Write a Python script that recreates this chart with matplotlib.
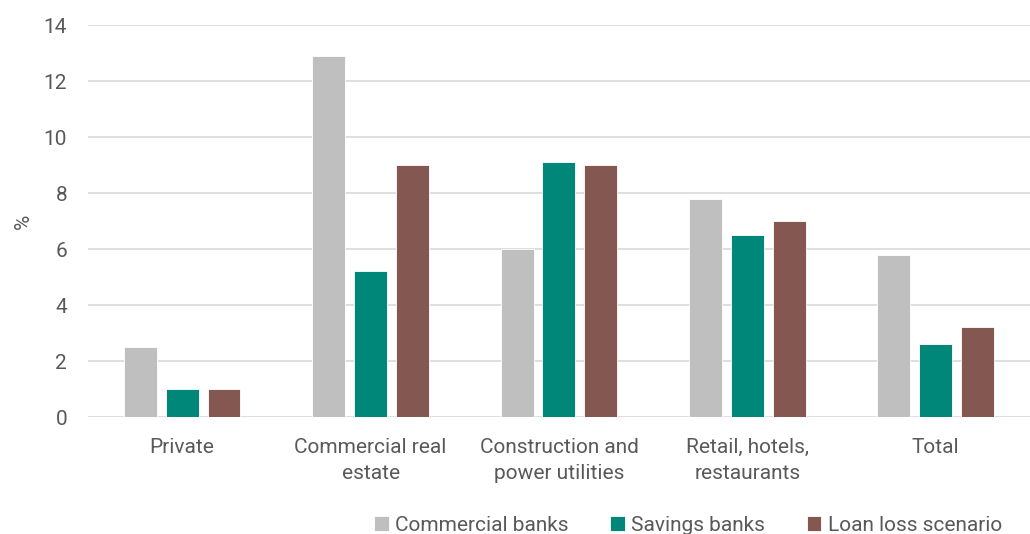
import numpy as np
import matplotlib.pyplot as plt

plt.rcParams['font.family'] = ['Roboto', 'DejaVu Sans']

categories = ['Private', 'Commercial real\nestate', 'Construction and\npower utilities',
              'Retail, hotels,\nrestaurants', 'Total']
commercial = [2.5, 12.9, 6.0, 7.8, 5.8]
savings = [1.0, 5.2, 9.1, 6.5, 2.6]
loan_loss = [1.0, 9.0, 9.0, 7.0, 3.2]
series_names = ['Commercial banks', 'Savings banks', 'Loan loss scenario']
colors = ['#BFBFBF', '#00877A', '#845750']
text_col = '#595959'
fs = 15

fig = plt.figure(figsize=(10.3, 5.34), dpi=100)
ax = fig.add_axes([0.0854, 0.219, 0.9146, 0.734])

x = np.arange(len(categories))
w = 0.175
step = 0.222
for i, (vals, name, c) in enumerate(zip([commercial, savings, loan_loss], series_names, colors)):
    ax.bar(x + (i - 1) * step, vals, width=w, color=c, label=name,
           edgecolor='white', linewidth=0.6, zorder=3)

ax.set_xlim(-0.5, len(categories) - 0.5)
ax.set_ylim(0, 14)
ax.set_yticks(np.arange(0, 15, 2))
ax.grid(axis='y', color='#D9D9D9', linewidth=1.2, zorder=0)
ax.set_axisbelow(True)
for s in ax.spines.values():
    s.set_visible(False)

ax.set_xticks(x)
ax.set_xticklabels(categories, linespacing=1.45)
ax.tick_params(axis='both', length=0, labelsize=fs, colors=text_col)
ax.tick_params(axis='x', pad=15)
ax.tick_params(axis='y', pad=15)
ax.set_ylabel('%', fontsize=fs, color=text_col, labelpad=8)

handles, labels = ax.get_legend_handles_labels()
fig.legend(handles, labels, loc='center', bbox_to_anchor=(0.668, 0.016), ncol=3,
           frameon=False, fontsize=fs, labelcolor=text_col, handlelength=0.7,
           handleheight=0.7, handletextpad=0.3, columnspacing=2.0)

fig.savefig('out.png', dpi=100)
